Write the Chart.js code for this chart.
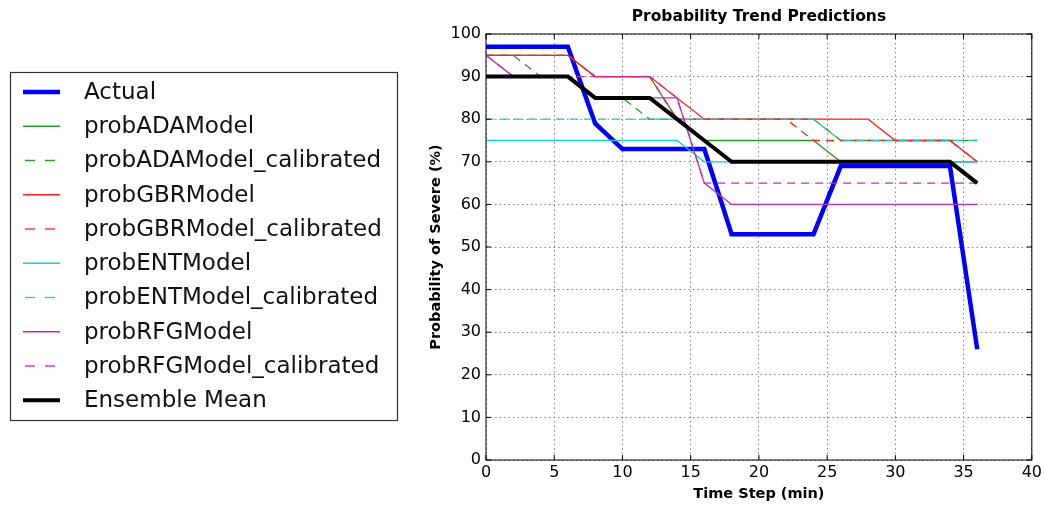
<!DOCTYPE html>
<html>
<head>
<meta charset="utf-8">
<script src="https://cdn.jsdelivr.net/npm/chart.js@4.4.0/dist/chart.umd.min.js"></script>
<style>
  html, body { margin: 0; padding: 0; background: #fff; }
  canvas { display: block; }
</style>
</head>
<body>
<canvas id="trendChart" width="1045" height="506"></canvas>
<script>
// time steps (min) and series
const timeSteps = [0, 2, 4, 6, 8, 10, 12, 14, 16, 18, 20, 22, 24, 26, 28, 30, 32, 34, 36];
const actual          = [97, 97, 97, 97, 79, 73, 73, 73, 73, 53, 53, 53, 53, 69, 69, 69, 69, 69, 26];
const probADA         = [95, 95, 95, 95, 90, 90, 90, 80, 75, 75, 75, 75, 75, 70, 70, 70, 70, 70, 70];
const probADACal      = [95, 95, 90, 90, 85, 85, 80, 80, 80, 80, 80, 80, 80, 75, 75, 75, 75, 75, 75];
const probGBR         = [95, 95, 95, 95, 90, 90, 90, 85, 80, 80, 80, 80, 80, 80, 80, 75, 75, 75, 70];
const probGBRCal      = [95, 95, 95, 95, 90, 90, 90, 80, 80, 80, 80, 80, 75, 75, 75, 75, 75, 75, 70];
const probENT         = [75, 75, 75, 75, 75, 75, 75, 75, 70, 70, 70, 70, 70, 70, 70, 70, 70, 70, 70];
const probENTCal      = [80, 80, 80, 80, 80, 80, 80, 80, 80, 80, 80, 80, 80, 75, 75, 75, 75, 75, 75];
const probRFG         = [95, 90, 90, 90, 85, 85, 85, 85, 65, 60, 60, 60, 60, 60, 60, 60, 60, 60, 60];
const probRFGCal      = [95, 90, 90, 90, 90, 90, 90, 85, 65, 65, 65, 65, 65, 65, 65, 65, 65, 65, 65];
const ensembleMean    = [90, 90, 90, 90, 85, 85, 85, 80, 75, 70, 70, 70, 70, 70, 70, 70, 70, 70, 65];

const xTicks = [0, 5, 10, 15, 20, 25, 30, 35, 40];
const yTicks = [0, 10, 20, 30, 40, 50, 60, 70, 80, 90, 100];

const FONT = "'DejaVu Sans', 'Liberation Sans', sans-serif";

function pts(values) {
    return timeSteps.map((t, i) => ({x: t, y: values[i]}));
}

function series(label, values, color, width, dashed) {
    return {
        label: label,
        data: pts(values),
        borderColor: color,
        backgroundColor: color,
        borderWidth: width,
        borderDash: dashed ? [8, 6] : [],
        pointRadius: 0,
        fill: false,
        tension: 0
    };
}

const datasets = [
    series('Actual', actual, '#0000ff', 4.5, false),
    series('probADAModel', probADA, '#2a9a2a', 1.3, false),
    series('probADAModel_calibrated', probADACal, '#2a9a2a', 1.3, true),
    series('probGBRModel', probGBR, '#ff2020', 1.3, false),
    series('probGBRModel_calibrated', probGBRCal, '#ff2020', 1.3, true),
    series('probENTModel', probENT, '#22c8c8', 1.3, false),
    series('probENTModel_calibrated', probENTCal, '#22c8c8', 1.3, true),
    series('probRFGModel', probRFG, '#c02cc0', 1.3, false),
    series('probRFGModel_calibrated', probRFGCal, '#c02cc0', 1.3, true),
    series('Ensemble Mean', ensembleMean, '#000000', 4, false)
];
// later series on top, like the original plot
datasets.forEach((d, i) => { d.order = datasets.length - 1 - i; });

// box around the plot plus inward tick marks
const framePlugin = {
    id: 'frame',
    afterDatasetsDraw(chart) {
        const {ctx, chartArea: a, scales} = chart;
        ctx.save();
        ctx.strokeStyle = '#000';
        ctx.lineWidth = 1;
        ctx.setLineDash([]);
        ctx.strokeRect(a.left, a.top, a.right - a.left, a.bottom - a.top);
        ctx.beginPath();
        scales.x.ticks.forEach(t => {
            const px = scales.x.getPixelForValue(t.value);
            ctx.moveTo(px, a.bottom); ctx.lineTo(px, a.bottom - 5);
            ctx.moveTo(px, a.top); ctx.lineTo(px, a.top + 5);
        });
        scales.y.ticks.forEach(t => {
            const py = scales.y.getPixelForValue(t.value);
            ctx.moveTo(a.left, py); ctx.lineTo(a.left + 5, py);
            ctx.moveTo(a.right, py); ctx.lineTo(a.right - 5, py);
        });
        ctx.stroke();
        ctx.restore();
    }
};

// legend box on the left, outside the axes
const legendPlugin = {
    id: 'sideLegend',
    afterDraw(chart) {
        const ctx = chart.ctx;
        const box = {x: 10.5, y: 72.5, w: 387, h: 348};
        ctx.save();
        ctx.strokeStyle = '#333';
        ctx.lineWidth = 1.2;
        ctx.strokeRect(box.x, box.y, box.w, box.h);
        ctx.font = '23px ' + FONT;
        ctx.textBaseline = 'middle';
        ctx.fillStyle = '#111';
        chart.data.datasets.forEach((d, i) => {
            const y = 92 + i * 34.25;
            ctx.strokeStyle = d.borderColor;
            ctx.lineWidth = d.borderWidth;
            ctx.beginPath();
            if (d.borderDash.length) {
                ctx.setLineDash([10, 10]);
                ctx.moveTo(25, y); ctx.lineTo(55, y);
            } else {
                ctx.setLineDash([]);
                ctx.moveTo(23, y); ctx.lineTo(60, y);
            }
            ctx.stroke();
            ctx.fillText(d.label, 84, y + 1);
        });
        ctx.restore();
    }
};

const ctx = document.getElementById('trendChart').getContext('2d');
const trendChart = new Chart(ctx, {
    type: 'line',
    data: { datasets: datasets },
    plugins: [framePlugin, legendPlugin],
    options: {
        responsive: false,
        animation: false,
        devicePixelRatio: 1,
        layout: { padding: { left: 420, right: 13, top: 0, bottom: 0 } },
        plugins: {
            legend: { display: false },
            tooltip: { enabled: false },
            title: {
                display: true,
                fullSize: false,
                text: 'Probability Trend Predictions',
                color: '#000',
                font: { family: FONT, size: 15.5, weight: 'bold' },
                padding: { top: 8, bottom: 7.4 }
            }
        },
        scales: {
            x: {
                type: 'linear',
                min: xTicks[0],
                max: xTicks[xTicks.length - 1],
                afterFit: (scale) => { scale.height = 46; },
                ticks: {
                    stepSize: xTicks[1] - xTicks[0],
                    color: '#000',
                    padding: 3,
                    maxRotation: 0,
                    font: { family: FONT, size: 16 }
                },
                grid: { color: '#888', lineWidth: 1, drawTicks: false },
                border: { display: false, dash: [1.5, 3] },
                title: {
                    display: true,
                    text: 'Time Step (min)',
                    color: '#000',
                    font: { family: FONT, size: 14.5, weight: 'bold' },
                    padding: { top: 0, bottom: 3 }
                }
            },
            y: {
                type: 'linear',
                min: yTicks[0],
                max: yTicks[yTicks.length - 1],
                afterFit: (scale) => { scale.width = 66; },
                ticks: {
                    stepSize: yTicks[1] - yTicks[0],
                    color: '#000',
                    padding: 5,
                    font: { family: FONT, size: 16 }
                },
                grid: { color: '#888', lineWidth: 1, drawTicks: false },
                border: { display: false, dash: [1.5, 3] },
                title: {
                    display: true,
                    text: 'Probability of Severe (%)',
                    color: '#000',
                    font: { family: FONT, size: 14.5, weight: 'bold' },
                    padding: { top: 8, bottom: 0 }
                }
            }
        }
    }
});
</script>
</body>
</html>
